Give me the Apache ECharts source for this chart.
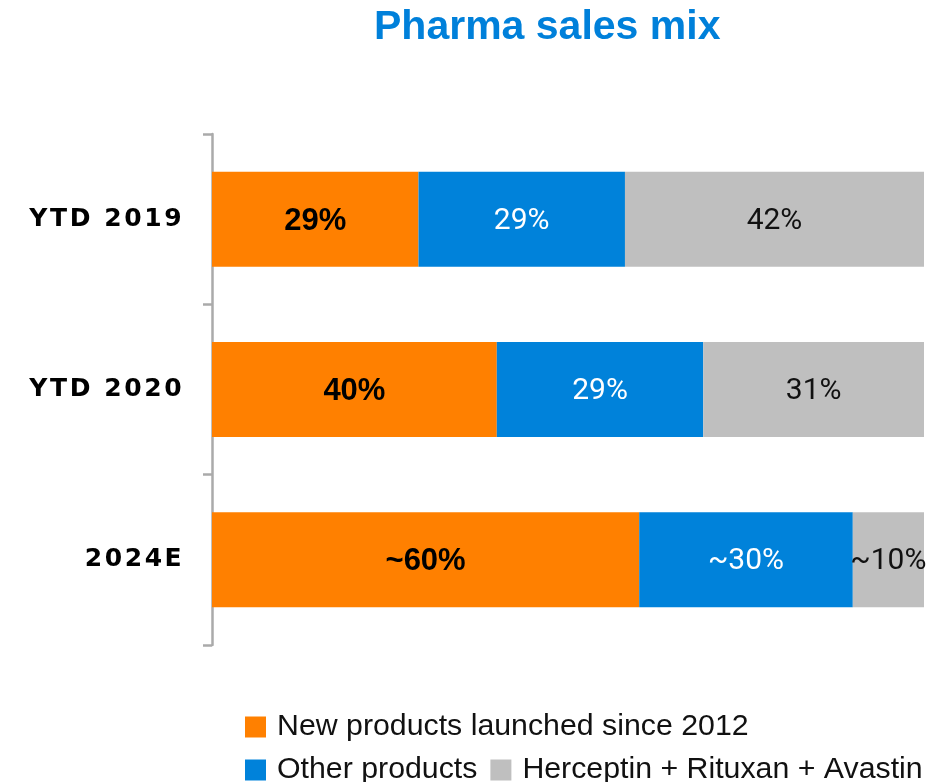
<!DOCTYPE html>
<html>
<head>
<meta charset="utf-8">
<script src="https://cdn.jsdelivr.net/npm/echarts@6/dist/echarts.min.js"></script>
<style>
  html, body { margin: 0; padding: 0; background: #ffffff; }
  #chart { width: 945px; height: 782px; }
</style>
</head>
<body>
<div id="chart"></div>
<script>
// Pharma sales mix: share of sales by product group (percent)
const categories = ['YTD 2019', 'YTD 2020', '2024E'];
const seriesNames = ['New products launched since 2012', 'Other products', 'Herceptin + Rituxan + Avastin'];
const newProducts = [29, 40, 60];
const otherProducts = [29, 29, 30];
const legacyTrio = [42, 31, 10];
// 2024E figures are estimates, shown with a leading "~"
const approxPrefix = ['', '', '~'];

const colors = ['#FF8000', '#0082DA', '#BFBFBF'];

function pctLabel(p) {
  return approxPrefix[p.dataIndex] + p.value + '%';
}

function barSeries(name, values, color, labelStyle) {
  return {
    name: name,
    type: 'bar',
    stack: 'mix',
    data: values,
    barWidth: 95,
    itemStyle: { color: color },
    label: Object.assign({
      show: true,
      position: 'inside',
      offset: [0, 2],
      formatter: pctLabel
    }, labelStyle),
    emphasis: { disabled: true }
  };
}

const chart = echarts.init(document.getElementById('chart'), null, { renderer: 'canvas' });

chart.setOption({
  animation: false,
  backgroundColor: '#ffffff',
  title: {
    text: 'Pharma sales mix',
    left: 369,
    top: 2,
    textStyle: {
      fontFamily: 'Liberation Sans',
      fontWeight: 'bold',
      fontSize: 41,
      color: '#0080DA'
    }
  },
  grid: { left: 212, right: 21, top: 134, bottom: 137, containLabel: false },
  xAxis: { type: 'value', min: 0, max: 100, show: false },
  yAxis: {
    type: 'category',
    data: categories,
    inverse: true,
    axisLine: { show: true, lineStyle: { color: '#AAAAAA', width: 2.5 } },
    axisTick: { show: true, length: 9, lineStyle: { color: '#AAAAAA', width: 2.5 } },
    splitLine: { show: false },
    axisLabel: {
      margin: 29,
      formatter: function (v) {
        return v.split('').map(function (ch) { return '{c|' + ch + '}'; }).join('');
      },
      rich: {
        c: {
          fontFamily: 'DejaVu Sans',
          fontWeight: 'bold',
          fontSize: 25,
          color: '#000000',
          padding: [0, 1.3, 0, 1.3]
        }
      }
    }
  },
  legend: {
    left: 245,
    top: 712,
    width: 690,
    padding: 0,
    orient: 'horizontal',
    itemWidth: 21,
    itemHeight: 21,
    itemGap: 13,
    icon: 'rect',
    selectedMode: false,
    data: seriesNames,
    textStyle: {
      fontFamily: 'Liberation Sans',
      fontSize: 30.3,
      color: '#111111',
      lineHeight: 25,
      padding: [0, 0, 0, 6]
    }
  },
  series: [
    barSeries(seriesNames[0], newProducts, colors[0], {
      color: '#000000', fontFamily: 'Liberation Sans', fontWeight: 'bold', fontSize: 31
    }),
    barSeries(seriesNames[1], otherProducts, colors[1], {
      color: '#ffffff', fontFamily: 'Roboto', fontSize: 30
    }),
    barSeries(seriesNames[2], legacyTrio, colors[2], {
      color: '#111111', fontFamily: 'Roboto', fontSize: 30
    })
  ]
});
</script>
</body>
</html>
